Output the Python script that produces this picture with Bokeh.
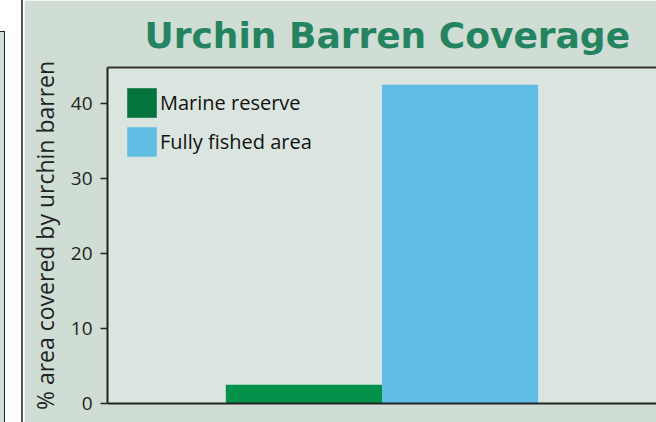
from bokeh.plotting import figure
from bokeh.layouts import row
from bokeh.models import (ColumnDataSource, FactorRange, Range1d, Legend, LegendItem,
                          CategoricalAxis, FixedTicker, Div)
from bokeh.embed import file_html
from bokeh.resources import INLINE

# ---- data ----
categories = ["Marine reserve", "Fully fished area"]
coverage = [2.5, 42.5]
bar_colors = ["#039249", "#62bde5"]
legend_colors = ["#04743c", "#62bde5"]
y_ticks = [0, 10, 20, 30, 40]
title_text = "Urchin Barren Coverage"
y_label = "% area covered by urchin barren"

PANEL = "#cfddd4"
FRAME = "#dbe5df"
INK = "#222222"
FONT = "Open Sans"

p = figure(
    width=632, height=422,
    x_range=FactorRange(factors=categories, range_padding=0.758, range_padding_units="absolute"),
    y_range=Range1d(0, 44.8),
    output_backend="svg", toolbar_location=None,
    min_border_left=83, min_border_top=67, min_border_bottom=19, min_border_right=0,
    background_fill_color=FRAME, border_fill_color=PANEL, margin=0,
)
p.outline_line_color = None
p.grid.visible = False

# title
p.title.text = title_text
p.title.align = "left"
p.title.offset = 37
p.title.standoff = 24
p.title.text_font = "DejaVu Sans"
p.title.text_font_style = "bold"
p.title.text_font_size = "36px"
p.title.text_color = "#23845f"

src = ColumnDataSource(dict(cat=categories, val=coverage, color=bar_colors))
p.vbar(x="cat", top="val", width=1.0, source=src, fill_color="color", line_color=None)

# legend with its own (darker) swatches; zero-height bars so nothing shows in the plot
leg_renderers = [p.vbar(x=[cat], top=[0], width=1.0, fill_color=c, line_color=None)
                 for cat, c in zip(categories, legend_colors)]
legend = Legend(
    items=[LegendItem(label=lab, renderers=[r]) for lab, r in zip(categories, leg_renderers)],
    location=(16, 243), margin=0, padding=0, spacing=2,
    glyph_width=37, glyph_height=37, label_standoff=0,
    label_text_font=FONT, label_text_font_size="20px", label_text_color="#111111",
    background_fill_alpha=0, border_line_color=None,
)
p.add_layout(legend)

# y axis
ya = p.yaxis[0]
ya.ticker = FixedTicker(ticks=y_ticks)
ya.axis_label = y_label
ya.axis_label_text_font = FONT
ya.axis_label_text_font_style = "normal"
ya.axis_label_text_font_size = "23px"
ya.axis_label_text_color = INK
ya.axis_label_standoff = 7
ya.major_label_text_font = FONT
ya.major_label_text_font_size = "19px"
ya.major_label_text_color = INK
ya.major_label_standoff = 8
ya.major_tick_out = 7
ya.major_tick_in = 0
ya.minor_tick_out = 0
ya.minor_tick_in = 0
ya.major_tick_line_color = INK
ya.major_tick_line_width = 1.5
ya.axis_line_color = INK
ya.axis_line_width = 2

# x axis: line only (no ticks, no labels)
xa = p.xaxis[0]
xa.ticker = FixedTicker(ticks=[])
xa.major_label_standoff = 0
xa.major_tick_out = 0
xa.major_tick_in = 0
xa.axis_line_color = INK
xa.axis_line_width = 2

# top frame line
top = CategoricalAxis(ticker=FixedTicker(ticks=[]), major_label_standoff=0,
                      major_tick_out=0, major_tick_in=0,
                      axis_line_color="#333333", axis_line_width=2)
p.add_layout(top, "above")

side = Div(width=24, height=422, margin=0, text=(
    '<div style="display:flex;height:422px;margin:0;padding:0">'
    '<div style="width:5px;margin-top:31px;height:391px;background:#cfddd4;'
    'border-top:1.5px solid #222;border-right:1.5px solid #222"></div>'
    '<div style="width:15.5px"></div>'
    '<div style="width:2px;height:422px;background:#555"></div>'
    '</div>'))

layout = row(side, p)
open("out.html", "w").write(file_html(layout, INLINE))
